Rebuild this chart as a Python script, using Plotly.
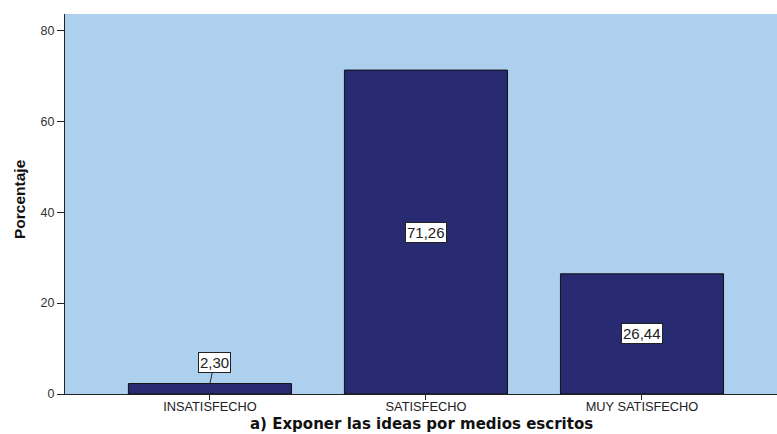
import plotly.graph_objects as go

categories = ["INSATISFECHO", "SATISFECHO", "MUY SATISFECHO"]
values = [2.30, 71.26, 26.44]
y_ticks = [0, 20, 40, 60, 80]
x_title = "a) Exponer las ideas por medios escritos"
y_title = "Porcentaje"

fig = go.Figure()
fig.add_trace(go.Bar(
    x=list(range(len(categories))), y=values, width=0.755,
    marker=dict(color="#282A72", line=dict(color="#111111", width=1)),
    hoverinfo="skip",
))

label_font = dict(family="Liberation Sans, Arial", size=15, color="#222222")
for i, v in enumerate(values):
    txt = f"{v:.2f}".replace(".", ",")
    if v < 10:
        fig.add_annotation(x=i, y=v, ax=i + 0.02, ay=v + 4.6, axref="x", ayref="y",
                           text=txt, showarrow=True, arrowhead=0, arrowwidth=1,
                           arrowcolor="#222222", bgcolor="white", bordercolor="#222222",
                           borderwidth=1, borderpad=1, font=label_font)
    else:
        fig.add_annotation(x=i, y=v / 2, text=txt, showarrow=False,
                           bgcolor="white", bordercolor="#222222", borderwidth=1, borderpad=1,
                           font=label_font)

fig.add_annotation(xref="paper", yref="paper", x=0.5, y=0, xanchor="center", yanchor="top",
                   yshift=-19, xshift=0, text=f"<b>{x_title}</b>", showarrow=False,
                   font=dict(family="DejaVu Sans", size=15, color="#111111"))
fig.add_annotation(xref="paper", yref="paper", x=0, y=0.5, xanchor="center", yanchor="middle",
                   xshift=-46, yshift=5, text=f"<b>{y_title}</b>", showarrow=False, textangle=-90,
                   font=dict(family="Liberation Sans Narrow, Liberation Sans, Arial", size=15.5, color="#111111"))

fig.update_layout(
    width=777, height=434,
    margin=dict(l=65, r=0, t=14, b=40),
    paper_bgcolor="white", plot_bgcolor="#ADD0EE",
    showlegend=False,
    xaxis=dict(range=[-0.671, 2.625], tickvals=list(range(len(categories))), ticktext=categories,
               automargin=False,
               showgrid=False, zeroline=False, showline=True, linecolor="#222222", linewidth=1,
               ticks="outside", ticklen=5, tickcolor="#222222", ticklabelstandoff=-4,
               tickfont=dict(family="Liberation Sans, Arial", size=12.8, color="#222222")),
    yaxis=dict(range=[0, 83.6], tickvals=y_ticks, showgrid=False, zeroline=False,
               automargin=False,
               showline=True, linecolor="#222222", linewidth=1,
               ticks="outside", ticklen=7, tickcolor="#222222",
               tickfont=dict(family="Liberation Sans, Arial", size=12.5, color="#333333")),
)

fig.write_html("out.html", config={"displayModeBar": False},
               post_script="document.body.style.margin='0';document.body.style.overflow='hidden';")
